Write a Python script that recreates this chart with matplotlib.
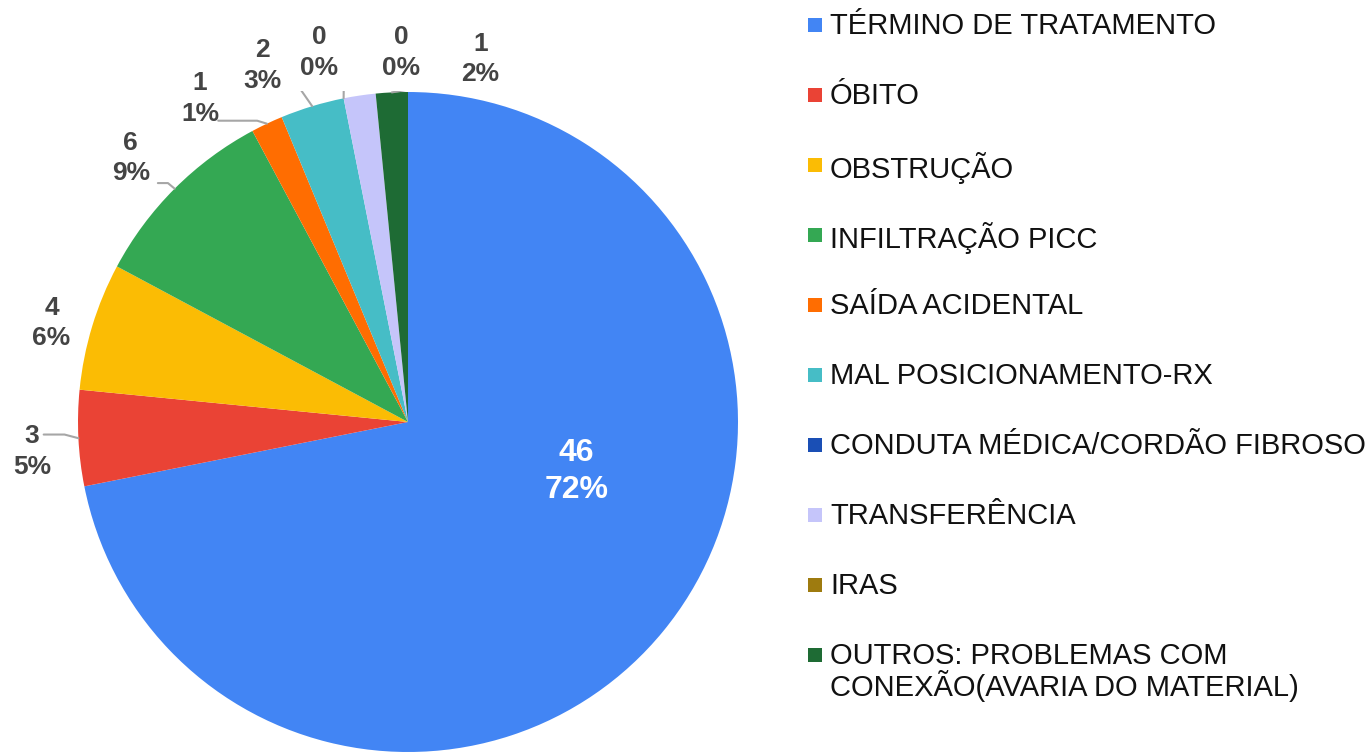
import matplotlib.pyplot as plt
import numpy as np
from matplotlib.patches import Rectangle

plt.rcParams['font.family'] = ['Liberation Sans', 'DejaVu Sans']

categories = ['TÉRMINO DE TRATAMENTO', 'ÓBITO', 'OBSTRUÇÃO', 'INFILTRAÇÃO PICC',
              'SAÍDA ACIDENTAL', 'MAL POSICIONAMENTO-RX', 'CONDUTA MÉDICA/CORDÃO FIBROSO',
              'TRANSFERÊNCIA', 'IRAS', 'OUTROS: PROBLEMAS COM\nCONEXÃO(AVARIA DO MATERIAL)']
values = [46, 3, 4, 6, 1, 2, 0, 1, 0, 1]
pct_labels = ['72%', '5%', '6%', '9%', '1%', '3%', '0%', '', '0%', '2%']
colors = ['#4285F4', '#EA4335', '#FBBC04', '#34A853', '#FF6D01', '#46BDC6',
          '#1A4FB5', '#C5C5FA', '#9E7B0F', '#1E6B34']

# label placement (data units, pie radius = 1); None = no label
label_pos = [None, (-1.14, -0.09), (-1.08, 0.30), (-0.84, 0.80), (-0.63, 0.98),
             (-0.44, 1.08), (-0.27, 1.12), None, (-0.02, 1.12), (0.22, 1.10)]
# leader line start, relative to label centre; elbow fraction along x
leader_from = [None, (0.036, 0.052), None, (0.082, -0.076), (0.055, -0.067),
               (0.076, -0.07), (0.076, -0.042), None, None, (-0.088, -0.07)]
elbow = [0, 0.6, 0, 0.6, 0.8, 0.5, 0.0, 0, 0, 0.0]

fig = plt.figure(figsize=(13.68, 7.53), dpi=100)
W, H = 1368, 753
cx, cy, R = 408, 422, 330
ax = fig.add_axes([0, 0, 816 / W, 662 / H])

wedges, _ = ax.pie(values, colors=colors, startangle=90, counterclock=False,
                   radius=1, center=(0, 0), frame=True,
                   wedgeprops=dict(linewidth=0))
ax.set_xlim(-cx / R, (816 - cx) / R)
ax.set_ylim(-(H - cy) / R, (662 - (H - cy)) / R)
ax.axis('off')

# big slice label
ax.text(0.51, -0.15, f'{values[0]}\n{pct_labels[0]}', color='white', fontsize=23,
        fontweight='bold', ha='center', va='center', linespacing=1.3)

for i, w in enumerate(wedges):
    if label_pos[i] is None:
        continue
    ang = np.deg2rad((w.theta1 + w.theta2) / 2)
    ex, ey = np.cos(ang), np.sin(ang)
    tx, ty = label_pos[i]
    ax.text(tx, ty, f'{values[i]}\n{pct_labels[i]}', color='#444444', fontsize=19,
            fontweight='bold', ha='center', va='center', linespacing=1.35)
    if leader_from[i] is not None:
        sx, sy = tx + leader_from[i][0], ty + leader_from[i][1]
        mx = sx + elbow[i] * (ex - sx)
        ax.plot([sx, mx, ex], [sy, sy, ey], color='#A6A6A6', lw=1.5,
                solid_joinstyle='round', solid_capstyle='round')

# legend
for i, (c, name) in enumerate(zip(colors, categories)):
    y = 25 + 70 * i
    fig.add_artist(Rectangle((808 / W, 1 - (y + 7) / H), 14 / W, 14 / H,
                             transform=fig.transFigure, color=c, lw=0))
    fig.text(830 / W, 1 - (y - 13) / H, name, fontsize=21, color='#111111',
             ha='left', va='top', linespacing=1.0)

fig.savefig('out.png', dpi=100)
